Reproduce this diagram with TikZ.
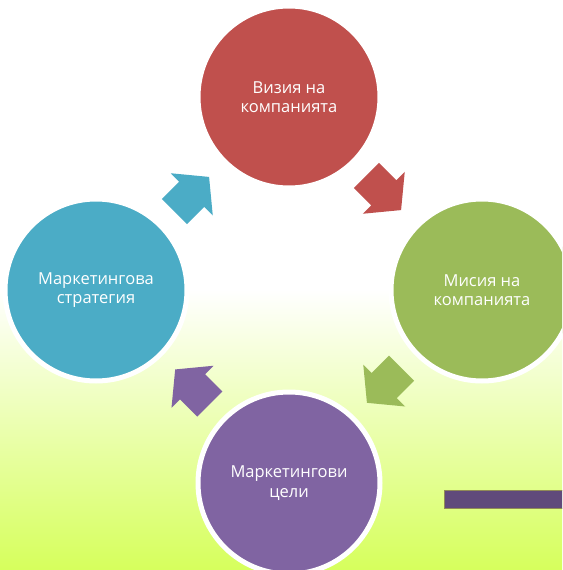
\documentclass[tikz,border=0pt]{standalone}
\usepackage{fontspec}
\setmainfont{Open Sans}
\definecolor{cred}{HTML}{C0504D}
\definecolor{cgreen}{HTML}{9BBB59}
\definecolor{cpurple}{HTML}{8064A2}
\definecolor{cblue}{HTML}{4BACC6}
\definecolor{cbar}{HTML}{604A7B}
\definecolor{bgbot}{RGB}{214,255,92}
\begin{document}
\begin{tikzpicture}[x=1pt,y=-1pt,
  disc/.style={circle,draw=white,line width=5pt,minimum size=182pt,inner sep=0pt,
    text=white,align=center,font=\fontsize{16.5}{19.5}\selectfont},
  blockarrow/.style={fill=#1,draw=none}]
\useasboundingbox (0,0) rectangle (562,570);
% background
\fill[white] (0,0) rectangle (562,291);
\shade[top color=white,bottom color=bgbot] (0,290) rectangle (562,570);
\begin{scope}
\clip (0,0) rectangle (562,570);
\node[disc,fill=cred]    (vis) at (289,97)  {Визия на\\компанията};
\node[disc,fill=cgreen]  (mis) at (482,290) {Мисия на\\компанията};
\node[disc,fill=cpurple] (cel) at (289,483) {Маркетингови\\цели};
\node[disc,fill=cblue]   (str) at (96,290)  {Маркетингова\\стратегия};
% block arrows
\foreach \cx/\cy/\ang/\col in {191.75/194.25/45/cblue, 383.75/192.75/-45/cred, 384.25/385.5/-135/cgreen, 192.5/386.75/135/cpurple}{
  \fill[blockarrow=\col,shift={(\cx,\cy)},rotate=\ang]
    (-24.5,-17.7) -- (0,-17.7) -- (0,-29.7) -- (24.5,0) -- (0,29.7) -- (0,17.7) -- (-24.5,17.7) -- cycle;
}
% bar
\filldraw[fill=cbar,draw=gray!60!olive,line width=0.8pt] (444,490) rectangle (570,508.5);
\end{scope}
\end{tikzpicture}
\end{document}
